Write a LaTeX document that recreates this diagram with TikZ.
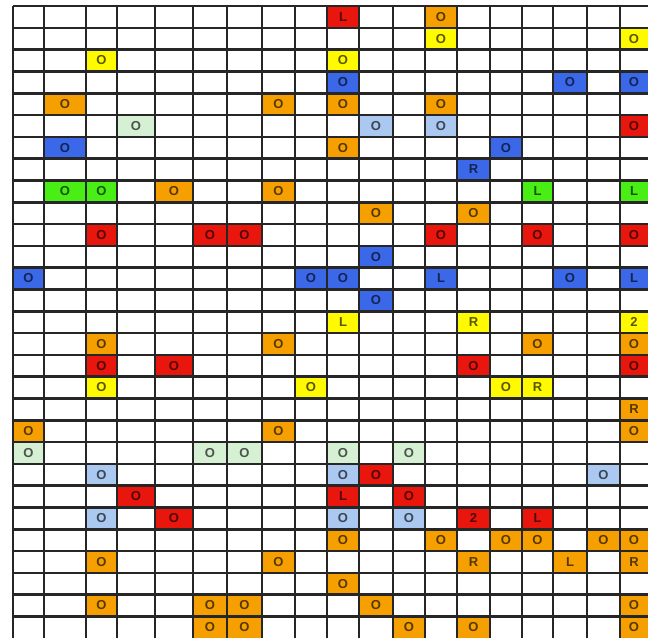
\documentclass[tikz,border=0pt]{standalone}
\usepackage{fontspec}
\setmainfont{Liberation Sans}
\definecolor{cred}{RGB}{232,22,12}
\definecolor{corange}{RGB}{245,160,0}
\definecolor{cyellow}{RGB}{255,250,0}
\definecolor{cblue}{RGB}{58,104,232}
\definecolor{clblue}{RGB}{170,200,240}
\definecolor{clgreen}{RGB}{214,240,212}
\definecolor{cgreen}{RGB}{72,238,20}
\def\colb{{13,44,86,117,155,193,227,262,295,327,359,393,425,457,490,522,553,587,620,648}}
\tikzset{
  cellbox/.style={inner sep=0pt, outer sep=0pt, font=\bfseries\fontsize{13}{13}\selectfont},
  gridline/.style={draw=black!85, line width=2.6pt}
}
\newcommand{\cellat}[4]{%
  \pgfmathsetmacro{\xa}{\colb[#1-1]}%
  \pgfmathsetmacro{\xb}{\colb[#1]}%
  \pgfmathsetmacro{\ya}{6+21.8*(#2-1)}%
  \pgfmathsetmacro{\yb}{6+21.8*#2}%
  \fill[#3] (\xa,\ya) rectangle (\xb,\yb);
  \node[cellbox, text=#3!35!black] (c#1r#2) at ({(\xa+\xb)/2},{(\ya+\yb)/2}) {#4};
}
\begin{document}
\begin{tikzpicture}[x=1pt,y=-1pt]
\useasboundingbox (0,0) rectangle (648,640);
\fill[white] (0,0) rectangle (648,640);
% row 1
\cellat{10}{1}{cred}{L}
\cellat{13}{1}{corange}{O}
% row 2
\cellat{13}{2}{cyellow}{O}
\cellat{19}{2}{cyellow}{O}
% row 3
\cellat{3}{3}{cyellow}{O}
\cellat{10}{3}{cyellow}{O}
% row 4
\cellat{10}{4}{cblue}{O}
\cellat{17}{4}{cblue}{O}
\cellat{19}{4}{cblue}{O}
% row 5
\cellat{2}{5}{corange}{O}
\cellat{8}{5}{corange}{O}
\cellat{10}{5}{corange}{O}
\cellat{13}{5}{corange}{O}
% row 6
\cellat{4}{6}{clgreen}{O}
\cellat{11}{6}{clblue}{O}
\cellat{13}{6}{clblue}{O}
\cellat{19}{6}{cred}{O}
% row 7
\cellat{2}{7}{cblue}{O}
\cellat{10}{7}{corange}{O}
\cellat{15}{7}{cblue}{O}
% row 8
\cellat{14}{8}{cblue}{R}
% row 9
\cellat{2}{9}{cgreen}{O}
\cellat{3}{9}{cgreen}{O}
\cellat{5}{9}{corange}{O}
\cellat{8}{9}{corange}{O}
\cellat{16}{9}{cgreen}{L}
\cellat{19}{9}{cgreen}{L}
% row 10
\cellat{11}{10}{corange}{O}
\cellat{14}{10}{corange}{O}
% row 11
\cellat{3}{11}{cred}{O}
\cellat{6}{11}{cred}{O}
\cellat{7}{11}{cred}{O}
\cellat{13}{11}{cred}{O}
\cellat{16}{11}{cred}{O}
\cellat{19}{11}{cred}{O}
% row 12
\cellat{11}{12}{cblue}{O}
% row 13
\cellat{1}{13}{cblue}{O}
\cellat{9}{13}{cblue}{O}
\cellat{10}{13}{cblue}{O}
\cellat{13}{13}{cblue}{L}
\cellat{17}{13}{cblue}{O}
\cellat{19}{13}{cblue}{L}
% row 14
\cellat{11}{14}{cblue}{O}
% row 15
\cellat{10}{15}{cyellow}{L}
\cellat{14}{15}{cyellow}{R}
\cellat{19}{15}{cyellow}{2}
% row 16
\cellat{3}{16}{corange}{O}
\cellat{8}{16}{corange}{O}
\cellat{16}{16}{corange}{O}
\cellat{19}{16}{corange}{O}
% row 17
\cellat{3}{17}{cred}{O}
\cellat{5}{17}{cred}{O}
\cellat{14}{17}{cred}{O}
\cellat{19}{17}{cred}{O}
% row 18
\cellat{3}{18}{cyellow}{O}
\cellat{9}{18}{cyellow}{O}
\cellat{15}{18}{cyellow}{O}
\cellat{16}{18}{cyellow}{R}
% row 19
\cellat{19}{19}{corange}{R}
% row 20
\cellat{1}{20}{corange}{O}
\cellat{8}{20}{corange}{O}
\cellat{19}{20}{corange}{O}
% row 21
\cellat{1}{21}{clgreen}{O}
\cellat{6}{21}{clgreen}{O}
\cellat{7}{21}{clgreen}{O}
\cellat{10}{21}{clgreen}{O}
\cellat{12}{21}{clgreen}{O}
% row 22
\cellat{3}{22}{clblue}{O}
\cellat{10}{22}{clblue}{O}
\cellat{11}{22}{cred}{O}
\cellat{18}{22}{clblue}{O}
% row 23
\cellat{4}{23}{cred}{O}
\cellat{10}{23}{cred}{L}
\cellat{12}{23}{cred}{O}
% row 24
\cellat{3}{24}{clblue}{O}
\cellat{5}{24}{cred}{O}
\cellat{10}{24}{clblue}{O}
\cellat{12}{24}{clblue}{O}
\cellat{14}{24}{cred}{2}
\cellat{16}{24}{cred}{L}
% row 25
\cellat{10}{25}{corange}{O}
\cellat{13}{25}{corange}{O}
\cellat{15}{25}{corange}{O}
\cellat{16}{25}{corange}{O}
\cellat{18}{25}{corange}{O}
\cellat{19}{25}{corange}{O}
% row 26
\cellat{3}{26}{corange}{O}
\cellat{8}{26}{corange}{O}
\cellat{14}{26}{corange}{R}
\cellat{17}{26}{corange}{L}
\cellat{19}{26}{corange}{R}
% row 27
\cellat{10}{27}{corange}{O}
% row 28
\cellat{3}{28}{corange}{O}
\cellat{6}{28}{corange}{O}
\cellat{7}{28}{corange}{O}
\cellat{11}{28}{corange}{O}
\cellat{19}{28}{corange}{O}
% row 29
\cellat{6}{29}{corange}{O}
\cellat{7}{29}{corange}{O}
\cellat{12}{29}{corange}{O}
\cellat{14}{29}{corange}{O}
\cellat{19}{29}{corange}{O}
% grid
\foreach \i in {0,...,18} {
  \pgfmathsetmacro{\xv}{\colb[\i]}
  \draw[gridline] (\xv,6) -- (\xv,637.5);
}
\foreach \k in {0,...,28} {
  \pgfmathsetmacro{\yh}{6+21.8*\k}
  \draw[gridline] (13,\yh) -- (648,\yh);
}
\end{tikzpicture}
\end{document}
